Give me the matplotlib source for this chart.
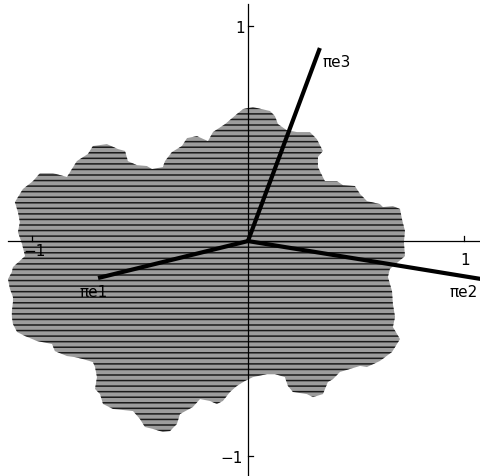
import numpy as np
import matplotlib.pyplot as plt
from matplotlib.patches import Polygon

plt.rcParams['hatch.linewidth'] = 1.1

# outline of the projected point set (traced clockwise, data units)
fractal_x = [-1.079, -1.042, -0.995, -0.963, -0.903, -0.838, -0.815, -0.792, -0.741, -0.718,
             -0.653, -0.602, -0.569, -0.556, -0.514, -0.468, -0.444, -0.394, -0.384, -0.352,
             -0.306, -0.282, -0.236, -0.185, -0.162, -0.106, -0.051, -0.023, 0.023, 0.102,
             0.125, 0.139, 0.185, 0.227, 0.287, 0.319, 0.347, 0.324, 0.324, 0.356,
             0.412, 0.440, 0.495, 0.519, 0.551, 0.611, 0.625, 0.671, 0.704, 0.713,
             0.727, 0.722, 0.727, 0.657, 0.648, 0.667, 0.671, 0.681, 0.671, 0.704,
             0.667, 0.611, 0.551, 0.519, 0.426, 0.394, 0.370, 0.347, 0.301, 0.273,
             0.208, 0.185, 0.171, 0.125, 0.088, 0.023, -0.014, -0.051, -0.083, -0.116,
             -0.144, -0.176, -0.222, -0.255, -0.315, -0.329, -0.361, -0.394, -0.440, -0.477,
             -0.500, -0.532, -0.625, -0.671, -0.685, -0.708, -0.699, -0.708, -0.718, -0.764,
             -0.801, -0.838, -0.894, -0.907, -0.977, -1.032, -1.069, -1.088, -1.093, -1.093,
             -1.088, -1.088, -1.102, -1.111, -1.093, -1.088, -1.032, -1.046, -1.065, -1.056,
             -1.065]
fractal_y = [0.181, 0.242, 0.279, 0.316, 0.316, 0.298, 0.335, 0.372, 0.405, 0.442,
             0.451, 0.428, 0.419, 0.372, 0.353, 0.349, 0.335, 0.344, 0.372, 0.414,
             0.442, 0.479, 0.488, 0.465, 0.507, 0.544, 0.591, 0.614, 0.623, 0.605,
             0.581, 0.544, 0.512, 0.507, 0.507, 0.474, 0.419, 0.391, 0.344, 0.279,
             0.279, 0.260, 0.256, 0.219, 0.186, 0.172, 0.158, 0.163, 0.149, 0.102,
             0.047, -0.005, -0.070, -0.130, -0.167, -0.233, -0.293, -0.353, -0.400, -0.456,
             -0.516, -0.558, -0.586, -0.581, -0.609, -0.642, -0.656, -0.712, -0.726, -0.712,
             -0.702, -0.674, -0.633, -0.619, -0.619, -0.633, -0.651, -0.674, -0.702, -0.744,
             -0.758, -0.744, -0.735, -0.772, -0.805, -0.851, -0.884, -0.888, -0.874, -0.865,
             -0.828, -0.791, -0.781, -0.758, -0.712, -0.688, -0.633, -0.586, -0.563, -0.549,
             -0.540, -0.535, -0.512, -0.479, -0.465, -0.442, -0.423, -0.386, -0.353, -0.326,
             -0.284, -0.260, -0.223, -0.177, -0.144, -0.121, -0.070, -0.014, 0.042, 0.088,
             0.135]

# projected basis vectors
vec_names = ['\u03c0e1', '\u03c0e2', '\u03c0e3']
vec_x = [-0.694, 1.10, 0.333]
vec_y = [-0.172, -0.180, 0.898]
label_x = [-0.778, 0.935, 0.347]
label_y = [-0.237, -0.237, 0.837]

fig = plt.figure(figsize=(4.81, 4.77), dpi=100)
ax = fig.add_axes([0, 0, 1, 1])
ax.set_xlim(-1.148, 1.079)
ax.set_ylim(-1.093, 1.126)
ax.axis('off')

poly = Polygon(np.column_stack([fractal_x, fractal_y]), closed=True,
               facecolor='#9c9c9c', edgecolor='#1a1a1a', linewidth=0,
               hatch='---', zorder=1)
ax.add_patch(poly)

# coordinate axes
ax.plot([-1.11, 1.079], [0, 0], color='black', lw=0.9, zorder=3)
ax.plot([0, 0], [-1.093, 1.103], color='black', lw=0.9, zorder=3)
ax.plot([1, 1], [0, 0.025], color='black', lw=0.9, zorder=3)
ax.plot([-1, -1], [0, 0.025], color='black', lw=0.9, zorder=3)
for yt in [1, -1]:
    ax.plot([0, 0.025], [yt, yt], color='black', lw=0.9, zorder=3)

tick_font = dict(fontsize=11, family='DejaVu Sans', color='black', zorder=4)
ax.text(1.005, -0.084, '1', ha='center', va='center', **tick_font)
ax.text(-0.986, -0.046, '\u22121', ha='center', va='center', **tick_font)
ax.text(-0.012, 0.995, '1', ha='right', va='center', **tick_font)
ax.text(-0.022, -1.005, '\u22121', ha='right', va='center', **tick_font)

for name, x, y, lx, ly in zip(vec_names, vec_x, vec_y, label_x, label_y):
    ax.plot([0, x], [0, y], color='black', lw=3, solid_capstyle='butt', zorder=5)
    ax.text(lx, ly, name, ha='left', va='center', fontsize=11,
            family='DejaVu Sans', zorder=6)

fig.savefig('out.png', dpi=100)
